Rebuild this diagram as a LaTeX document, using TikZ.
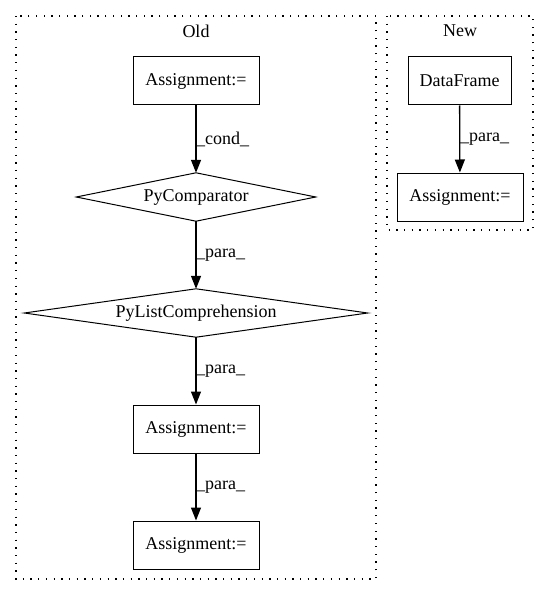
\documentclass[tikz,border=0pt]{standalone}
\usepackage{fontspec}
\setmainfont{Liberation Serif}
\usetikzlibrary{arrows.meta}
\tikzset{
  txt/.style={font=\fontsize{18}{22}\selectfont},
  box/.style={txt,draw,line width=1pt,minimum height=48pt,inner sep=0pt},
  diabox/.style={txt,minimum height=48pt,inner sep=0pt},
  diaborder/.style={draw,line width=1pt,line join=miter},
  cluster/.style={draw,line width=1.3pt,dash pattern=on 1.3pt off 6.4pt},
  lbl/.style={txt,anchor=west,inner sep=0pt},
  edge/.style={line width=1.3pt,-{Triangle[length=13pt,width=10pt]}}
}
\begin{document}
\begin{tikzpicture}[x=1pt,y=-1pt]
\useasboundingbox (0,0) rectangle (549,596);
% clusters
\draw[cluster] (16,16) rectangle (376,579);
\draw[cluster] (387,16) rectangle (533,230);
\node[txt] (oldlbl) at (196,31) {Old};
\node[txt] (newlbl) at (460,31) {New};
% Old nodes
\node[box,minimum width=126pt] (a1) at (196,81) {Assignment:=};
\node[diabox,minimum width=239pt] (cmp) at (196,197) {PyComparator};
\draw[diaborder] (cmp.north) -- (cmp.east) -- (cmp.south) -- (cmp.west) -- cycle;
\node[diabox,minimum width=343pt] (lc) at (196,313) {PyListComprehension};
\draw[diaborder] (lc.north) -- (lc.east) -- (lc.south) -- (lc.west) -- cycle;
\node[box,minimum width=126pt] (a2) at (196,429) {Assignment:=};
\node[box,minimum width=126pt] (a3) at (196,545) {Assignment:=};
% New nodes
\node[box,minimum width=103pt] (df) at (459.5,81) {DataFrame};
\node[box,minimum width=126pt] (an) at (460,197) {Assignment:=};
% edges
\draw[edge] (a1) -- (cmp.north);
\draw[edge] (cmp.south) -- (lc.north);
\draw[edge] (lc.south) -- (a2);
\draw[edge] (a2) -- (a3);
\draw[edge] (df) -- (an);
% edge labels
\node[lbl] (l1) at (196,139) {\_cond\_};
\node[lbl] (l2) at (196,255) {\_para\_};
\node[lbl] (l3) at (196,371) {\_para\_};
\node[lbl] (l4) at (196,487) {\_para\_};
\node[lbl] (l5) at (460,139) {\_para\_};
\end{tikzpicture}
\end{document}
